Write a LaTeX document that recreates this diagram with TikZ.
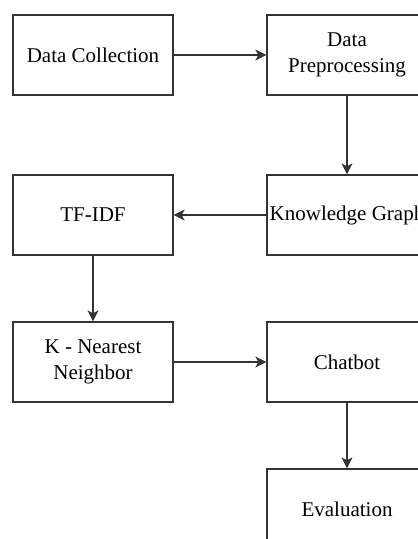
\documentclass[tikz,border=0pt]{standalone}
\usepackage{fontspec}
\setmainfont{Liberation Serif}
\usetikzlibrary{arrows.meta, positioning}
\begin{document}
\begin{tikzpicture}[x=1pt, y=-1pt,
    n/.style={rectangle, draw=black!80, line width=1.3pt, minimum width=160pt, minimum height=80pt, inner sep=2pt, align=center, font=\fontsize{21}{26}\selectfont},
    a/.style={draw=black!80, line width=1.3pt, -{Stealth[length=11pt, width=11pt, inset=3pt]}}]
      \clip (0,0) rectangle (418,539);
      \node[n] (dc) at (93,55) {Data Collection};
      \node[n] (dp) at (347,55) {Data\\Preprocessing};
      \node[n] (kg) at (347,215) {Knowledge Graph};
      \node[n] (tf) at (93,215) {TF-IDF};
      \node[n] (knn) at (93,362) {K - Nearest\\Neighbor};
      \node[n] (cb) at (347,362) {Chatbot};
      \node[n] (ev) at (347,509) {Evaluation};
      \draw[a] (dc) -- (dp);
      \draw[a] (dp) -- (kg);
      \draw[a] (kg) -- (tf);
      \draw[a] (tf) -- (knn);
      \draw[a] (knn) -- (cb);
      \draw[a] (cb) -- (ev);
    \end{tikzpicture}
\end{document}
